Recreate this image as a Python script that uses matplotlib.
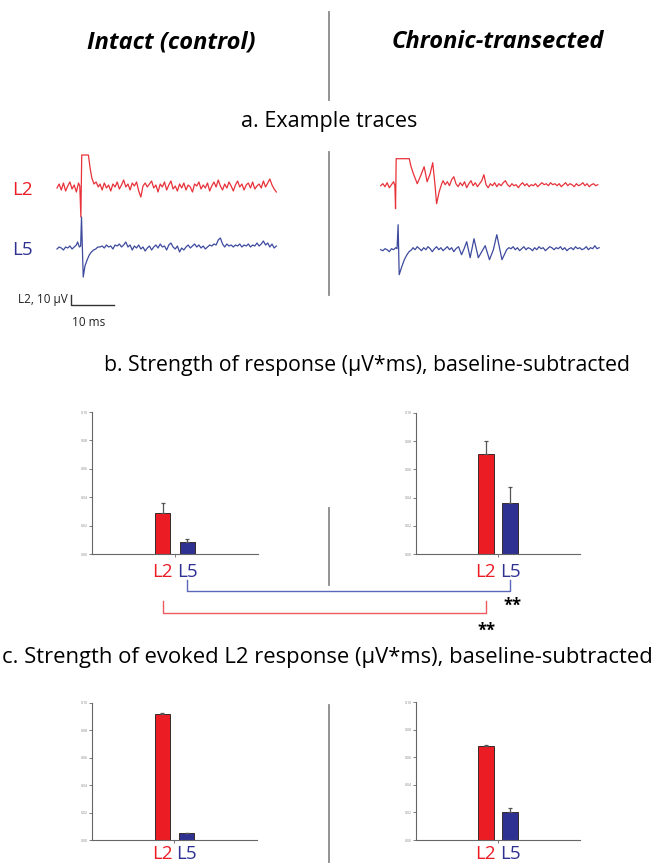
import numpy as np
import matplotlib.pyplot as plt

plt.rcParams['font.family'] = ['Open Sans', 'DejaVu Sans']

W, H = 655, 865
RED = '#ec1c24'
NAVY = '#2e3192'
TRACE_RED = '#e8323a'
TRACE_BLUE = '#3d4a9e'

# ---- bar data (uV*ms) ----
layers = ['L2', 'L5']
yticks = [0.00, 0.02, 0.04, 0.06, 0.08, 0.10]
b_ctrl = [0.029, 0.0087]
b_ctrl_err = [0.007, 0.0017]
b_chr = [0.0706, 0.036]
b_chr_err = [0.0094, 0.0117]
c_ctrl = [0.092, 0.0049]
c_ctrl_err = [0.0005, 0.0004]
c_chr = [0.068, 0.0205]
c_chr_err = [0.001, 0.003]

# ---- example traces (ms, uV) ----
ctrl_l2_pre = [0, 4, -2, 5, -3, 2, 6, -1, 3, -4, 5]
ctrl_l2_ev_t = [5.3, 5.55, 5.75, 6.0, 7.3, 7.7, 8.1, 8.6, 9.1, 9.6]
ctrl_l2_ev_v = [2, -29, 33, 33, 33, 20, 10, 4, 6, 1]
ctrl_l2_noise = [4, -2, 5, 0, 3, -3, 4, 1, 6, -1,
                 3, 8, 1, 4, -2, 5, 2, 6, -3, -9,
                 2, 5, 1, 4, 7, 0, 3, -4, 4, 1,
                 6, -2, 3, 7, -1, 2, -3, 4, 0, 5,
                 -2, 3, 1, -4, 4, 2, 6, -1, 3, 0,
                 5, -3, 2, 6, 1, 8, 2, -2, 4, 0,
                 6, 2, -3, 3, 7, 1, 4, -2, 3, 5,
                 0, 6, -1, 2, 4, 0, 7, 1, 5, 9,
                 3, -1, -4]

ctrl_l5_pre = [-1, 1, 0, -2, 1, 0, 2, -1, 1, 3]
ctrl_l5_ev_t = [4.8, 5.2, 5.5, 5.7, 5.9, 6.1, 6.5, 7.0, 7.5, 8.0, 8.5, 9.0, 9.5]
ctrl_l5_ev_v = [6, 1, 2, 31, 0, -29, -18, -12, -7, -4, -2, -1, 1]
ctrl_l5_noise = [1, 2, 0, 3, 1, 2, -1, 3, 2, 4,
                 1, 3, 6, 1, 3, -2, 2, 0, 3, -1,
                 1, -3, 0, 2, -2, 1, 3, 0, 4, 1,
                 2, -2, 3, 5, 1, -1, 2, -4, 0, -2,
                 1, 3, 0, 2, 4, 1, 3, 0, 2, -1,
                 1, 3, 2, 4, 3, 8, 10, 4, 1, 4,
                 2, 3, 1, 3, 2, 4, 1, 3, 2, 4,
                 1, 3, 2, 5, 2, 4, 7, 3, 5, 1,
                 4, 0, 2]

chr_l2_pre = [0, 2, -1, 3, -2, 1, 4]
chr_l2_ev_t = [3.3, 3.45, 3.6, 6.65, 7.0, 7.6, 8.5, 9.3, 10.1, 10.8, 11.5, 12.1,
               12.6, 13.0, 13.6, 14.2]
chr_l2_ev_v = [0, -23, 27, 27, 20, 12, 2, 10, 19, 4, 12, 23, 2, -18, -6, 2]
chr_l2_noise = [5, 1, 4, 0, 6, 9, 2, -1, 3, 0,
                4, -2, 2, 5, 0, 3, -1, 2, 5, 11,
                1, -2, 2, 0, 3, -1, 2, 0, 3, 5,
                1, -1, 2, 0, 1, -2, 1, 3, 0, 2,
                -1, 1, 0, 2, -1, 1, 3, 1, 2, 0,
                3, 1, 2, 0, 2, -1, 1, 3, 0, 2,
                1, -1, 2, 0, 1, 3, 0, 2, -1, 1,
                2, 0, 1]

chr_l5_pre = [0, -1, 1, 0, -2, 1, 0, 2]
chr_l5_ev1_t = [3.8, 4.05, 4.3, 4.9, 5.5, 6.1, 6.6, 7.2]
chr_l5_ev1_v = [1, 25, -25, -17, -10, -5, -2, 0]
chr_l5_noise1 = [2, 0, 3, 1, -1, 2, 0, 3, 1, -2, 1, 3, 0, 2, -1, 1, 3, 0, 2, -2, 1]
chr_l5_ev2_t = [18.1, 18.8, 19.4, 20.0, 20.8, 21.7, 22.7, 23.5, 24.3, 25.3,
                26.2, 27.0, 28.2, 29.3]
chr_l5_ev2_v = [3, -5, 1, 8, -8, 11, -8, -2, 4, -10, 0, 15, -10, 0]
chr_l5_noise2 = [2, 1, 3, 0, 2, -1, 1, 3, 0, 2, 1, -1, 2, 0, 3, 1, 2, -1, 1, 3,
                 2, 0, 2, 1, 3, 0, 2, -1, 1, 2, 0, 3, 1, 2, 0, 1, 3, 0, 2, 1,
                 4, 1, 2]


def grid(start, vals):
    return start + 0.5 * np.arange(len(vals))


def px_axes(l, t, r, b):
    return fig.add_axes([l / W, 1 - b / H, (r - l) / W, (b - t) / H])


fig = plt.figure(figsize=(W / 100, H / 100), dpi=100)

ov = fig.add_axes([0, 0, 1, 1])
ov.set_xlim(0, W)
ov.set_ylim(H, 0)
ov.axis('off')

# headers and section titles
ov.text(171, 42, 'Intact (control)', fontsize=17, fontweight='bold',
        fontstyle='italic', ha='center', va='center')
ov.text(498, 42, 'Chronic-transected', fontsize=17, fontweight='bold',
        fontstyle='italic', ha='center', va='center')
ov.text(329, 122, 'a. Example traces', fontsize=15.5, ha='center', va='center')
ov.text(367, 365, 'b. Strength of response (\u03bcV*ms), baseline-subtracted',
        fontsize=15.3, ha='center', va='center')
ov.text(327, 658, 'c. Strength of evoked L2 response (\u03bcV*ms), baseline-subtracted',
        fontsize=15.8, ha='center', va='center')

# dividers
for y0, y1 in [(12, 100), (152, 295), (508, 585), (705, 862)]:
    ov.plot([329, 329], [y0, y1], color='#8a8a8a', lw=1.3)

ov.text(22, 190, 'L2', fontsize=13.5, color=RED, ha='center', va='center')
ov.text(22, 250, 'L5', fontsize=13.5, color=NAVY, ha='center', va='center')
ov.text(68, 300, 'L2, 10 \u03bcV', fontsize=8.5, ha='right', va='center', color='#222')
ov.text(89, 322, '10 ms', fontsize=8.5, ha='center', va='center', color='#222')

# ---- traces ----
t_ctrl_l2 = np.concatenate([grid(0, ctrl_l2_pre), ctrl_l2_ev_t, grid(10, ctrl_l2_noise)])
v_ctrl_l2 = np.concatenate([ctrl_l2_pre, ctrl_l2_ev_v, ctrl_l2_noise])
t_ctrl_l5 = np.concatenate([grid(0, ctrl_l5_pre), ctrl_l5_ev_t, grid(10, ctrl_l5_noise)])
v_ctrl_l5 = np.concatenate([ctrl_l5_pre, ctrl_l5_ev_v, ctrl_l5_noise])
t_chr_l2 = np.concatenate([grid(0, chr_l2_pre), chr_l2_ev_t, grid(14.5, chr_l2_noise)])
v_chr_l2 = np.concatenate([chr_l2_pre, chr_l2_ev_v, chr_l2_noise])
t_chr_l5 = np.concatenate([grid(0, chr_l5_pre), chr_l5_ev1_t, grid(7.5, chr_l5_noise1),
                           chr_l5_ev2_t, grid(29.8, chr_l5_noise2)])
v_chr_l5 = np.concatenate([chr_l5_pre, chr_l5_ev1_v, chr_l5_noise1,
                           chr_l5_ev2_v, chr_l5_noise2])

ms_px = 4.3
ax_tl = px_axes(0, 140, 330, 340)
ax_tl.plot(t_ctrl_l2, v_ctrl_l2, color=TRACE_RED, lw=0.9)
ax_tl.plot(t_ctrl_l5, v_ctrl_l5 - 60, color=TRACE_BLUE, lw=0.9)
ax_tl.plot([3.26, 3.26, 13.26], [-107, -117, -117], color='#333', lw=1)
ax_tl.set_xlim(-57 / ms_px, (330 - 57) / ms_px)
ax_tl.set_ylim(-(340 - 188), 188 - 140)
ax_tl.axis('off')

ax_tr = px_axes(330, 140, 655, 340)
ax_tr.plot(t_chr_l2, v_chr_l2, color=TRACE_RED, lw=0.9)
ax_tr.plot(t_chr_l5, v_chr_l5 - 64, color=TRACE_BLUE, lw=0.9)
ax_tr.set_xlim(-50.7 / ms_px, (655 - 380.7) / ms_px)
ax_tr.set_ylim(-(340 - 185.7), 185.7 - 140)
ax_tr.axis('off')


# ---- bar panels ----
def bar_panel(box, vals, errs, lab_off):
    ax = px_axes(*box)
    x = np.arange(len(layers))
    ax.bar(x, vals, width=0.63, color=[RED, NAVY], edgecolor='#3a2a2a',
           linewidth=0.7, zorder=2)
    ax.errorbar(x, vals, yerr=[np.zeros(len(vals)), errs], fmt='none',
                ecolor='#555', elinewidth=0.9, capsize=1.3, capthick=0.9, zorder=3)
    ax.set_xlim(-2.88, 3.88)
    ax.set_ylim(0, 0.1)
    for s in ['top', 'right']:
        ax.spines[s].set_visible(False)
    for s in ['left', 'bottom']:
        ax.spines[s].set_color('#666')
        ax.spines[s].set_linewidth(0.8)
    ax.set_yticks(yticks)
    ax.set_yticklabels(['%.2f' % v for v in yticks], fontsize=2.6, color='#888')
    ax.set_xticks([0.5])
    ax.set_xticklabels([])
    ax.tick_params(length=2, width=0.6, color='#666', pad=1)
    # layer names under the bars, baseline lab_off px below the axis
    for xi, lab, col in zip(x, layers, [RED, NAVY]):
        ax.annotate(lab, xy=(xi, 0), xytext=(0, -lab_off * 0.72),
                    textcoords='offset points', ha='center', va='baseline',
                    fontsize=13.5, color=col)
    return ax


ax_b1 = bar_panel((92, 412, 258, 554), b_ctrl, b_ctrl_err, 23)
ax_b2 = bar_panel((416, 413, 580, 554), b_chr, b_chr_err, 23)
ax_c1 = bar_panel((92, 703, 257, 840), c_ctrl, c_ctrl_err, 19)
ax_c2 = bar_panel((416, 702, 580, 840), c_chr, c_chr_err, 19)


def to_px(ax, xi):
    d = ax.transData.transform((xi, 0))
    return ov.transData.inverted().transform(d)[0]


# comparison brackets between conditions
bx1, bx2 = to_px(ax_b1, 1), to_px(ax_b2, 1)
ov.plot([bx1, bx1, bx2, bx2], [580, 591, 591, 580], color='#5b67b8', lw=1)
rx1, rx2 = to_px(ax_b1, 0), to_px(ax_b2, 0)
ov.plot([rx1, rx1, rx2, rx2], [601, 613, 613, 601], color='#ee5a60', lw=1)
ov.text(bx2 + 2, 606, '**', fontsize=12, fontweight='bold', ha='center', va='center')
ov.text(rx2 + 1, 631, '**', fontsize=12, fontweight='bold', ha='center', va='center')

fig.savefig('out.png', dpi=100)
